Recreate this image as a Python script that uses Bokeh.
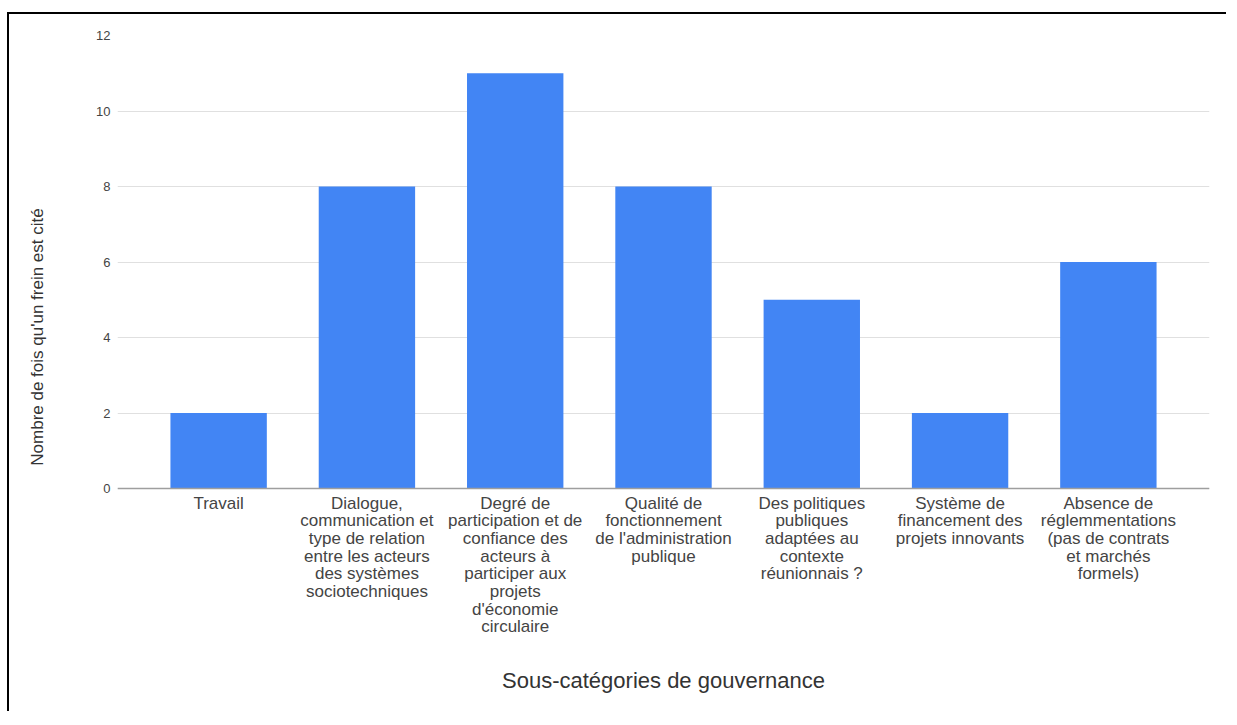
from bokeh.plotting import figure
from bokeh.models import FactorRange, ColumnDataSource, Span
from bokeh.core.properties import value
from bokeh.embed import file_html
from bokeh.resources import INLINE

categories = [
    "Travail",
    "Dialogue, communication et type de relation entre les acteurs des systèmes sociotechniques",
    "Degré de participation et de confiance des acteurs à participer aux projets d'économie circulaire",
    "Qualité de fonctionnement de l'administration publique",
    "Des politiques publiques adaptées au contexte réunionnais ?",
    "Système de financement des projets innovants",
    "Absence de réglemmentations (pas de contrats et marchés formels)",
]
tick_labels = [
    "Travail",
    "Dialogue,\ncommunication et\ntype de relation\nentre les acteurs\ndes systèmes\nsociotechniques",
    "Degré de\nparticipation et de\nconfiance des\nacteurs à\nparticiper aux\nprojets\nd'économie\ncirculaire",
    "Qualité de\nfonctionnement\nde l'administration\npublique",
    "Des politiques\npubliques\nadaptées au\ncontexte\nréunionnais ?",
    "Système de\nfinancement des\nprojets innovants",
    "Absence de\nréglemmentations\n(pas de contrats\net marchés\nformels)",
]
values = [2, 8, 11, 8, 5, 2, 6]
y_ticks = [0, 2, 4, 6, 8, 10, 12]

FONT = "Liberation Sans"
LABEL_TOP = 5      # px below the zero line
LINE_STEP = 17.7   # px between label lines
Y_LOW = -3.97      # room under the zero line for the wrapped category labels

source = ColumnDataSource(data=dict(cat=categories, val=values))

# one row per line of each wrapped category label
lx, ltext, loff = [], [], []
for cat, lab in zip(categories, tick_labels):
    for j, line in enumerate(lab.split("\n")):
        lx.append(cat)
        ltext.append(line)
        loff.append(LABEL_TOP + j * LINE_STEP)
label_src = ColumnDataSource(data=dict(x=lx, y=[0] * len(lx), text=ltext, off=loff))

p = figure(
    x_range=FactorRange(factors=categories, range_padding=0.052),
    y_range=(Y_LOW, 12),
    width=1219, height=699,
    output_backend="svg", toolbar_location=None,
    min_border_left=108, min_border_right=19, min_border_top=21, min_border_bottom=75,
    background_fill_color="white", border_fill_color="white",
)
p.styles = {"border-left": "2px solid black", "border-top": "2px solid black",
            "margin-top": "12px", "margin-left": "7px"}
p.outline_line_color = None

p.vbar(x="cat", top="val", width=0.65, source=source, fill_color="#4285F4", line_color=None)
p.add_layout(Span(location=0, dimension="width", line_color="#9e9e9e", line_width=1.5))

p.text(x="x", y="y", text="text", y_offset="off", source=label_src,
       text_font=value(FONT), text_font_size="17px", text_color="#444444",
       text_align="center", text_baseline="top")

# y axis
p.yaxis.ticker = y_ticks
p.yaxis.axis_line_color = None
p.yaxis.major_tick_line_color = None
p.yaxis.major_tick_out = 0
p.yaxis.major_tick_in = 0
p.yaxis.minor_tick_line_color = None
p.yaxis.major_label_text_font = FONT
p.yaxis.major_label_text_font_size = "13px"
p.yaxis.major_label_text_color = "#444444"
p.yaxis.major_label_standoff = 7
p.yaxis.axis_label = "Nombre de fois qu'un frein est cité"
p.yaxis.axis_label_text_font = FONT
p.yaxis.axis_label_text_font_style = "normal"
p.yaxis.axis_label_text_font_size = "17px"
p.yaxis.axis_label_text_color = "#333333"
p.yaxis.axis_label_standoff = 46

# x axis: only its title is shown (category labels are drawn above as wrapped text)
p.xaxis.major_label_overrides = {c: " " for c in categories}
p.xaxis.axis_line_color = None
p.xaxis.major_tick_line_color = None
p.xaxis.major_tick_out = 0
p.xaxis.major_tick_in = 0
p.xaxis.minor_tick_line_color = None
p.xaxis.major_label_standoff = 0
p.xaxis.major_label_text_font_size = "1px"
p.xaxis.major_label_text_color = None
p.xaxis.axis_label = "Sous-catégories de gouvernance"
p.xaxis.axis_label_text_font = FONT
p.xaxis.axis_label_text_font_style = "normal"
p.xaxis.axis_label_text_font_size = "22px"
p.xaxis.axis_label_text_color = "#333333"
p.xaxis.axis_label_standoff = 29

p.xgrid.grid_line_color = None
p.ygrid.grid_line_color = "#e0e0e0"
p.ygrid.grid_line_width = 1

open("out.html", "w").write(file_html(p, INLINE))
